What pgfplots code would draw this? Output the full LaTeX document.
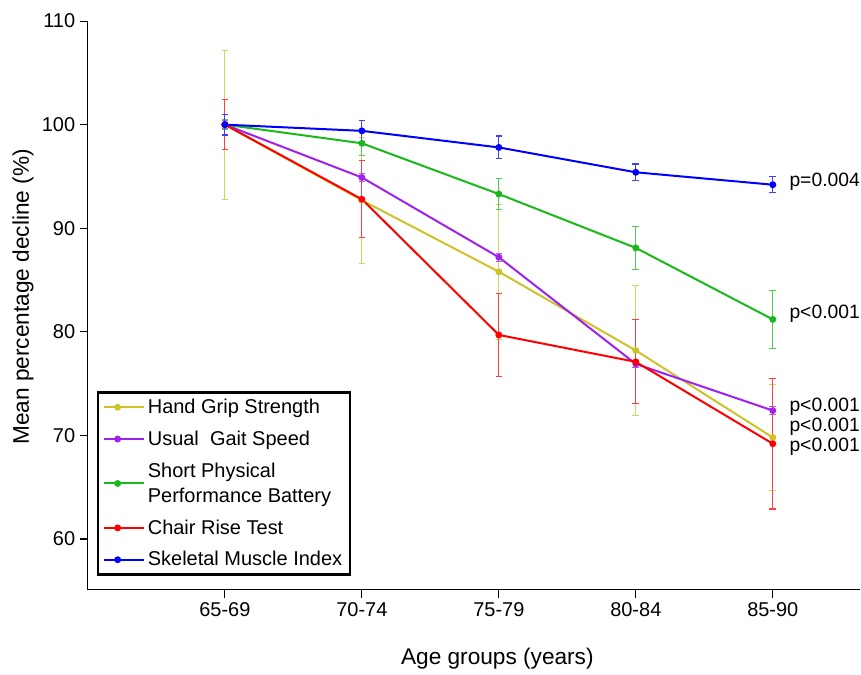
\documentclass[border=0pt]{standalone}
\usepackage{pgfplots}
\pgfplotsset{compat=1.18}
\usepackage{fontspec}
\setmainfont{Liberation Sans}

\definecolor{hgs}{RGB}{205,195,40}
\definecolor{ugs}{RGB}{160,32,240}
\definecolor{sppb}{RGB}{25,185,25}
\definecolor{crt}{RGB}{255,0,0}
\definecolor{smi}{RGB}{0,0,255}

\begin{document}
\begin{tikzpicture}
\begin{axis}[
    scale only axis,
    width=580pt, height=427pt,
    xmin=-1, xmax=4.64,
    ymin=55.1, ymax=110,
    axis x line*=bottom, axis y line*=left,
    axis line style={line width=0.8pt},
    xtick={0,1,2,3,4},
    xticklabels={65-69,70-74,75-79,80-84,85-90},
    ytick={60,70,80,90,100,110},
    tick align=outside,
    major tick length=6pt,
    tick style={line width=0.8pt, black},
    ticklabel style={font=\fontsize{15}{18}\selectfont},
    /pgf/number format/assume math mode=true,
    xlabel={Age groups (years)},
    ylabel={Mean percentage decline (\%)},
    xlabel style={font=\fontsize{17}{20}\selectfont, at={(axis description cs:0.530,0)}, anchor=center, yshift=-52pt},
    ylabel style={font=\fontsize{17}{20}\selectfont, at={(axis description cs:-0.084,0.515)}, anchor=center},
    clip=false,
    legend cell align=left,
    legend image code/.code={%
        \draw[mark repeat=2, mark phase=2] plot coordinates {(0cm,0cm) (0.35cm,0cm) (0.7cm,0cm)};
        \path (0.7cm,0cm) -- (1.05cm,0cm);},
    legend style={at={(rel axis cs:0.0116,0.0246)}, anchor=south west,
        draw=black, line width=1.8pt, font=\fontsize{15}{19}\selectfont,
        cells={align=left}, row sep=7.5pt, inner xsep=4pt, inner ysep=3pt},
    every axis plot/.append style={line width=1.5pt, mark=*, mark size=1.8pt,
        error bars/y dir=both, error bars/y explicit,
        error bars/error bar style={line width=0.8pt},
        error bars/error mark options={rotate=90, mark size=2.5pt, line width=0.8pt}},
]
\addplot[color=hgs, error bars/error bar style={color=hgs!75!white}] coordinates {
    (0,100.0) +- (0,7.2)
    (1,92.7) +- (0,6.1)
    (2,85.8) +- (0,6.5)
    (3,78.2) +- (0,6.3)
    (4,69.8) +- (0,5.1)
};
\addlegendentry{Hand Grip Strength}
\addplot[color=ugs, error bars/error bar style={color=ugs!75!white}] coordinates {
    (0,100.0) +- (0,0.4)
    (1,94.9) +- (0,0.35)
    (2,87.2) +- (0,0.4)
    (3,76.9) +- (0,0.35)
    (4,72.4) +- (0,0.35)
};
\addlegendentry{Usual\ \ Gait Speed}
\addplot[color=sppb, error bars/error bar style={color=sppb!75!white}] coordinates {
    (0,100.0) +- (0,0.5)
    (1,98.2) +- (0,1.2)
    (2,93.3) +- (0,1.5)
    (3,88.1) +- (0,2.05)
    (4,81.2) +- (0,2.8)
};
\addlegendentry{Short Physical\\Performance Battery}
\addplot[color=crt, error bars/error bar style={color=crt!75!white}] coordinates {
    (0,100.0) +- (0,2.4)
    (1,92.8) +- (0,3.7)
    (2,79.7) +- (0,4.0)
    (3,77.1) +- (0,4.05)
    (4,69.2) +- (0,6.3)
};
\addlegendentry{Chair Rise Test}
\addplot[color=smi, error bars/error bar style={color=smi!75!white}] coordinates {
    (0,100.0) +- (0,1.0)
    (1,99.4) +- (0,1.0)
    (2,97.8) +- (0,1.1)
    (3,95.4) +- (0,0.8)
    (4,94.2) +- (0,0.75)
};
\addlegendentry{Skeletal Muscle Index}

\begin{scope}[every node/.style={anchor=west, font=\fontsize{14.5}{17}\selectfont, inner sep=0pt}]
\node at (axis cs:4.12,94.5) {p=0.004};
\node at (axis cs:4.12,81.75) {p<0.001};
\node at (axis cs:4.12,72.8) {p<0.001};
\node at (axis cs:4.12,70.85) {p<0.001};
\node at (axis cs:4.12,68.95) {p<0.001};
\end{scope}
\path (rel axis cs:-0.1138,-0.1476) rectangle (rel axis cs:1,1.037);
\end{axis}
\end{tikzpicture}
\end{document}
